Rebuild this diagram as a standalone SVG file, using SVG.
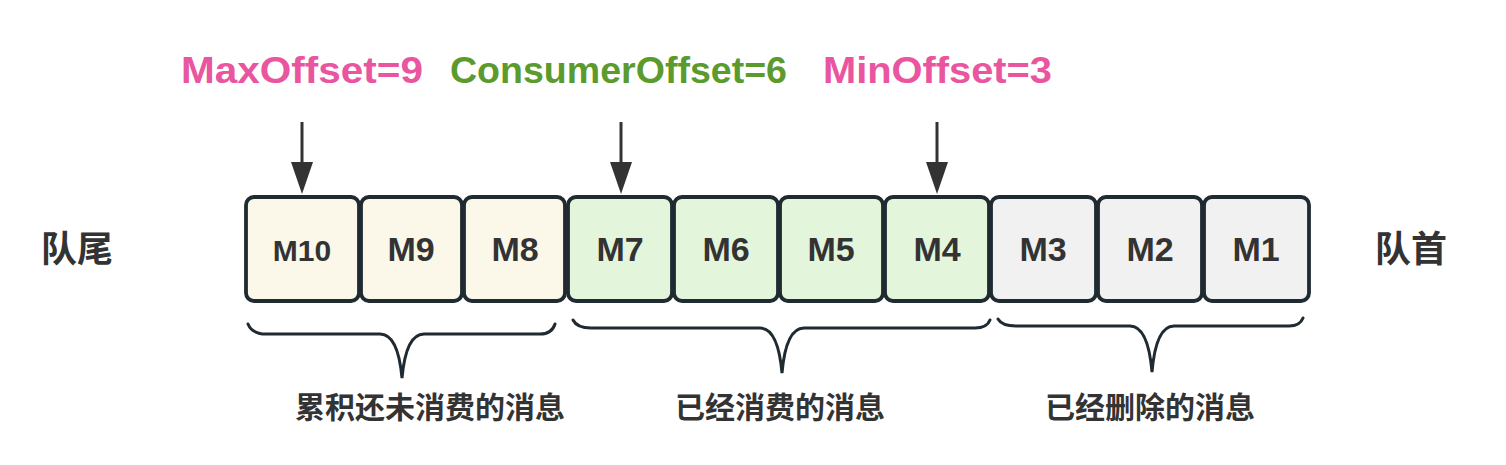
<svg xmlns="http://www.w3.org/2000/svg" width="1506" height="465" viewBox="0 0 1506 465">
<style>
.box{stroke:#1f2a31;stroke-width:3.8}
.y{fill:#fbf8ea}.g{fill:#e3f5da}.s{fill:#f1f1f1}
.m{font-family:"Comic Sans MS","Liberation Sans",sans-serif;font-weight:bold;fill:#333;text-anchor:middle}
.top{font-family:"Comic Sans MS","Liberation Sans",sans-serif;font-weight:bold;font-size:36px}
.cjk{font-family:"Noto Sans CJK SC","Noto Sans",sans-serif;font-weight:bold;fill:#333;text-anchor:middle}
.conn{stroke:#333;stroke-width:3;fill:none}
.brace{stroke:#1f2a31;stroke-width:3;fill:none;stroke-linecap:round}
</style>
<rect width="1506" height="465" fill="#fff"/>
<g id="labels-top">
<text class="top" x="181" y="83" fill="#e9559f" textLength="242" lengthAdjust="spacingAndGlyphs">MaxOffset=9</text>
<text class="top" x="450" y="83" fill="#5b9a2d" textLength="337" lengthAdjust="spacingAndGlyphs">ConsumerOffset=6</text>
<text class="top" x="823" y="83" fill="#e9559f" textLength="229" lengthAdjust="spacingAndGlyphs">MinOffset=3</text>
</g>
<g id="connectors">
<line class="conn" x1="302" y1="122" x2="302" y2="166"/>
<polygon points="291,162 313,162 302,194" fill="#333"/>
<line class="conn" x1="621" y1="122" x2="621" y2="166"/>
<polygon points="610,162 632,162 621,194" fill="#333"/>
<line class="conn" x1="937" y1="122" x2="937" y2="166"/>
<polygon points="926,162 948,162 937,194" fill="#333"/>
</g>
<g id="node-M10"><rect class="box y" x="246" y="197" width="113" height="104" rx="8"/><text class="m" x="302" y="261" font-size="30">M10</text></g>
<g id="node-M9"><rect class="box y" x="361" y="197" width="101" height="104" rx="8"/><text class="m" x="411" y="261" font-size="34">M9</text></g>
<g id="node-M8"><rect class="box y" x="464" y="197" width="101" height="104" rx="8"/><text class="m" x="515" y="261" font-size="34">M8</text></g>
<g id="node-M7"><rect class="box g" x="568" y="197" width="104" height="104" rx="8"/><text class="m" x="620" y="261" font-size="34">M7</text></g>
<g id="node-M6"><rect class="box g" x="674" y="197" width="104" height="104" rx="8"/><text class="m" x="726" y="261" font-size="34">M6</text></g>
<g id="node-M5"><rect class="box g" x="780" y="197" width="103" height="104" rx="8"/><text class="m" x="831" y="261" font-size="34">M5</text></g>
<g id="node-M4"><rect class="box g" x="885" y="197" width="104" height="104" rx="8"/><text class="m" x="937" y="261" font-size="34">M4</text></g>
<g id="node-M3"><rect class="box s" x="991" y="197" width="105" height="104" rx="8"/><text class="m" x="1043" y="261" font-size="34">M3</text></g>
<g id="node-M2"><rect class="box s" x="1098" y="197" width="104" height="104" rx="8"/><text class="m" x="1150" y="261" font-size="34">M2</text></g>
<g id="node-M1"><rect class="box s" x="1204" y="197" width="105" height="104" rx="8"/><text class="m" x="1256" y="261" font-size="34">M1</text></g>
<g id="braces">
<path class="brace" d="M248,324 Q252,334 266,334 L380,334 Q398,334 402,378 Q406,334 424,334 L540,334 Q552,334 555,324"/>
<path class="brace" d="M573,320 Q577,328 591,328 L760,328 Q778,328 782,373 Q786,328 804,328 L975,328 Q987,328 990,320"/>
<path class="brace" d="M998,319 Q1002,326 1016,326 L1130,326 Q1148,326 1152,372 Q1156,326 1174,326 L1289,326 Q1300,326 1303,318"/>
</g>
<g id="side-labels">
<text class="cjk" x="77" y="262" font-size="36">队尾</text>
<text class="cjk" x="1411" y="262" font-size="36">队首</text>
</g>
<g id="bottom-labels">
<text class="cjk" x="430" y="418" font-size="30">累积还未消费的消息</text>
<text class="cjk" x="780" y="418" font-size="30">已经消费的消息</text>
<text class="cjk" x="1150" y="418" font-size="30">已经删除的消息</text>
</g>
</svg>
